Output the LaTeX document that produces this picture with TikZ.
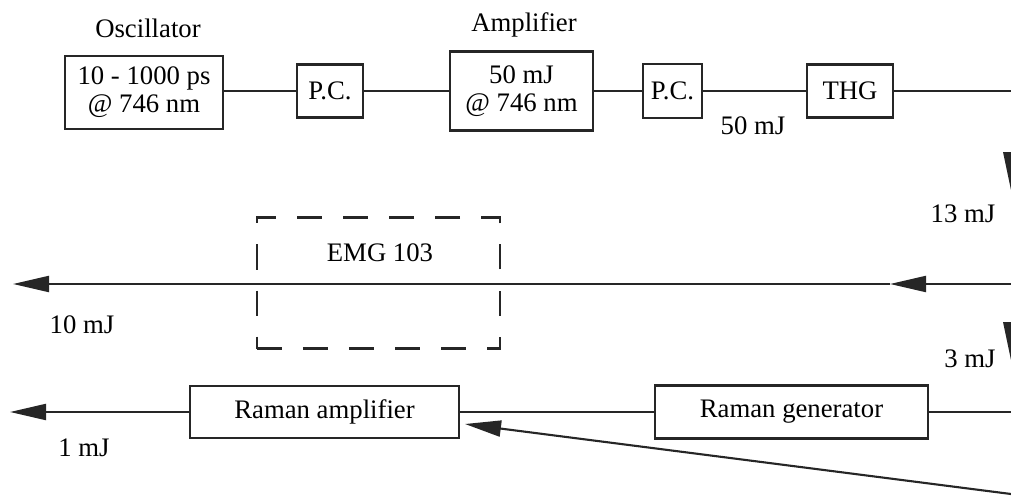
\documentclass[tikz,border=0pt]{standalone}
\usepackage{fontspec}
\setmainfont{Liberation Serif}
\usetikzlibrary{arrows.meta}

\begin{document}
\begin{tikzpicture}[x=0.01cm,y=-0.01cm,
    font=\fontsize{7.6}{8}\selectfont,
    box/.style={draw=black!85,line width=0.8pt,inner sep=0pt,align=center},
    emgbox/.style={draw=black!85,line width=0.8pt,dash pattern=on 0.25cm off 0.21cm,
      minimum width=2.43cm,minimum height=1.31cm},
    beam/.style={draw=black!85,line width=0.6pt},
    tip/.style={-{Triangle[length=0.36cm,width=0.16cm]}}]
  \useasboundingbox (0,0) rectangle (1011,497);
  % oscillator, Pockels cells, amplifier, THG
  \node[box,minimum width=1.58cm,minimum height=0.73cm] (osc) at (144,92.5) {10 - 1000 ps\\@ 746 nm};
  \node (osclbl) at (148,28) {Oscillator};
  \node[box,minimum width=0.66cm,minimum height=0.53cm] (pc1) at (330,91) {P.C.};
  \node[box,minimum width=1.43cm,minimum height=0.79cm] (amp) at (521.5,91) {50 mJ\\@ 746 nm};
  \node (amplbl) at (524,25) {Amplifier};
  \node[box,minimum width=0.59cm,minimum height=0.54cm] (pc2) at (672.5,91) {P.C.};
  \node[box,minimum width=0.86cm,minimum height=0.53cm] (thg) at (850,91) {THG};
  \coordinate (thgout) at (1011,91);
  \draw[beam] (osc.east |- pc1) -- (pc1) -- (amp) -- (pc2) -- (thg) -- (thgout);
  \node (e50) at (753,126) {50 mJ};
  % third harmonic line through EMG 103
  \coordinate (uvin) at (1011,284);
  \coordinate (uvmid) at (890,284);
  \coordinate (uvout) at (13,284);
  \node[emgbox] (emg) at (378.5,283) {};
  \node (emglbl) at (380,253) {EMG 103};
  \draw[beam,tip] (uvin) -- (uvmid);
  \draw[beam,tip] (uvmid) -- (uvout);
  \node (e13) at (963,214) {13 mJ};
  \node (e10) at (82,325) {10 mJ};
  % Raman generator and amplifier
  \node[box,minimum width=2.73cm,minimum height=0.53cm] (rg) at (791.5,412) {Raman generator};
  \node[box,minimum width=2.69cm,minimum height=0.52cm] (ra) at (324.5,412) {Raman amplifier};
  \coordinate (rgin) at (1011,412);
  \coordinate (raout) at (10,412);
  \coordinate (pump) at (1011,494);
  \coordinate (ratip) at (465,424);
  \draw[beam] (rgin) -- (rg) -- (ra);
  \draw[beam,tip] (ra) -- (raout);
  \draw[beam,tip] (pump) -- (ratip);
  \node (e3) at (970,359) {3 mJ};
  \node (e1) at (84,448) {1 mJ};
  \foreach \y in {152,322}
    \fill[black!85] (1003,\y) -- (1019,\y) -- (1011,\y+38) -- cycle;
\end{tikzpicture}
\end{document}
